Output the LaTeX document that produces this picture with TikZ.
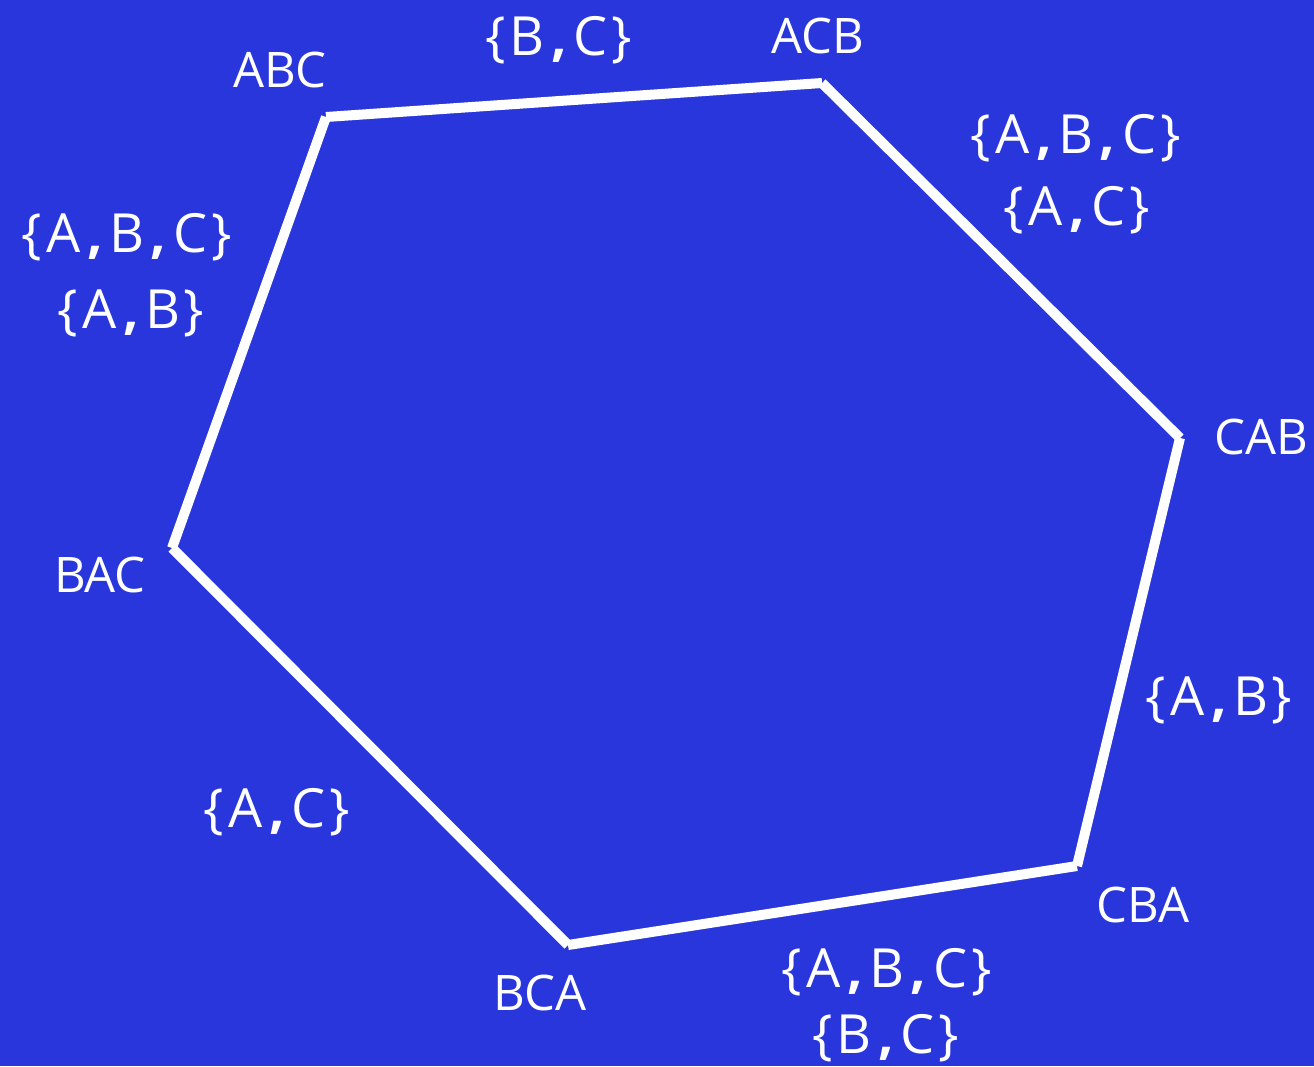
\documentclass[tikz,border=0pt]{standalone}
\usepackage{fontspec}
\setmainfont{Open Sans}
\definecolor{bg}{RGB}{40,54,220}
\newcommand{\mc}[1]{\makebox[31.6pt][c]{#1}}
\newcommand{\mcomma}{\mc{\bfseries,}}
\newcommand{\sabc}{\mc{\{}\mc{A}\mcomma\mc{B}\mcomma\mc{C}\mc{\}}}
\newcommand{\sxy}[2]{\mc{\{}\mc{#1}\mcomma\mc{#2}\mc{\}}}
\begin{document}
\begin{tikzpicture}[x=1pt,y=-1pt,
  lbl/.style={text=white,font=\fontsize{49}{70}\selectfont,inner sep=0pt},
  setl/.style={text=white,font=\fontsize{54}{70}\selectfont,inner sep=0pt,anchor=base},
  edge/.style={draw=white,line width=10pt,line cap=butt}]
\fill[bg] (0,0) rectangle (1314,1066);
\useasboundingbox (0,0) rectangle (1314,1066);
\coordinate (abc) at (326,117);
\coordinate (acb) at (822,83);
\coordinate (cab) at (1180,438);
\coordinate (cba) at (1077,866);
\coordinate (bca) at (568,945);
\coordinate (bac) at (172,548);
\draw[edge] (abc) -- (acb);
\draw[edge] (acb) -- (cab);
\draw[edge] (cab) -- (cba);
\draw[edge] (cba) -- (bca);
\draw[edge] (bca) -- (bac);
\draw[edge] (bac) -- (abc);
\node[lbl] (tabc) at (280,70) {ABC};
\node[lbl] (tacb) at (818,36) {ACB};
\node[lbl] (tcab) at (1261,437) {CAB};
\node[lbl] (tcba) at (1143,905) {CBA};
\node[lbl] (tbca) at (540,993) {BCA};
\node[lbl] (tbac) at (100,575) {BAC};
\node[setl] (e1) at (559,55) {\sxy{B}{C}};
\node[setl] (e2a) at (1076,153) {\sabc};
\node[setl] (e2b) at (1077,225) {\sxy{A}{C}};
\node[setl] (e3) at (1219,715) {\sxy{A}{B}};
\node[setl] (e4a) at (887,987) {\sabc};
\node[setl] (e4b) at (886,1053) {\sxy{B}{C}};
\node[setl] (e5) at (277,827) {\sxy{A}{C}};
\node[setl] (e6a) at (127,252) {\sabc};
\node[setl] (e6b) at (131,328) {\sxy{A}{B}};
\end{tikzpicture}
\end{document}
